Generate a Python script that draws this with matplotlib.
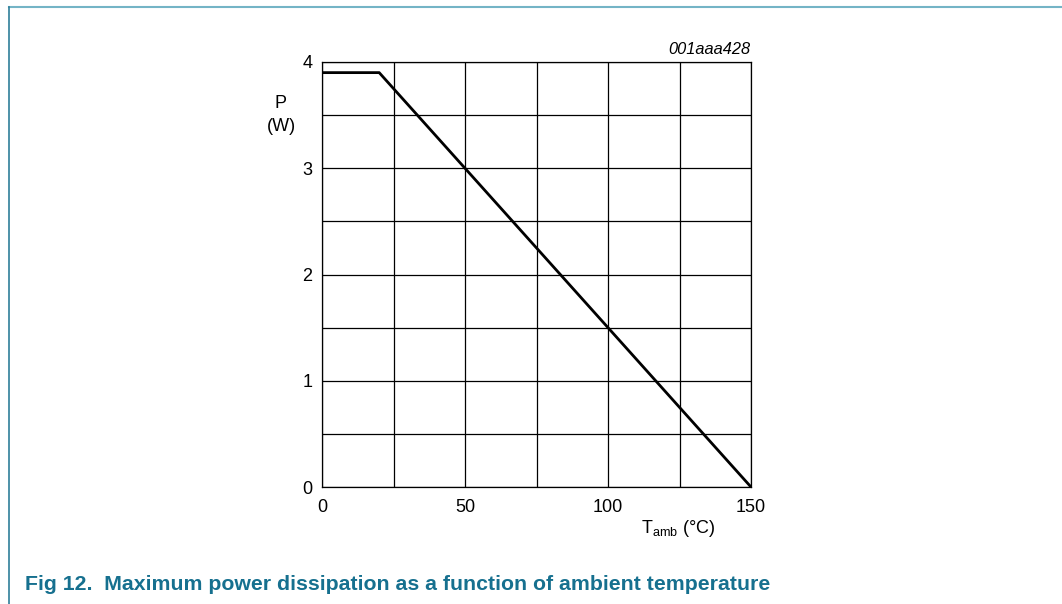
import numpy as np
import matplotlib
matplotlib.use("Agg")
import matplotlib.pyplot as plt
from matplotlib.lines import Line2D

plt.rcParams['font.family'] = ['Liberation Sans', 'DejaVu Sans']

# derating curve: ambient temperature vs max power
t_amb = [0, 20, 150]
p_max = [3.9, 3.9, 0]

x_ticks = [0, 50, 100, 150]
y_ticks = [0, 1, 2, 3, 4]
x_grid = np.arange(0, 151, 25)
y_grid = np.arange(0, 4.01, 0.5)

fig = plt.figure(figsize=(10.62, 6.04), dpi=100)
ax = fig.add_axes([322 / 1062, 1 - 487 / 604, 429 / 1062, 425 / 604])

ax.plot(t_amb, p_max, color="black", lw=2.0, solid_capstyle="butt", zorder=3)
ax.set_xlim(0, 150)
ax.set_ylim(0, 4)

ax.set_xticks(x_grid)
ax.set_yticks(y_grid)
ax.set_xticklabels([str(v) if v in x_ticks else "" for v in x_grid])
ax.set_yticklabels([str(int(v)) if v in y_ticks else "" for v in y_grid])
ax.tick_params(length=0, labelsize=13)
ax.tick_params(axis="x", pad=9)
ax.tick_params(axis="y", pad=7)
ax.grid(True, color="black", lw=0.9)
for s in ax.spines.values():
    s.set_linewidth(0.9)

# axis labels as in the datasheet
fig.text(281 / 1062, 1 - 103 / 604, "P", ha="center", va="center", fontsize=13)
fig.text(281 / 1062, 1 - 126 / 604, "(W)", ha="center", va="center", fontsize=13)
fig.text(678 / 1062, 1 - 533 / 604, r"T$_{\mathregular{amb}}$ (°C)", ha="center",
         va="baseline", fontsize=13)
fig.text(750 / 1062, 1 - 49 / 604, "001aaa428", ha="right", va="center",
         fontsize=11.8, style="italic")

# page frame and caption
fig.add_artist(Line2D([9 / 1062, 1], [1 - 7 / 604, 1 - 7 / 604],
                      transform=fig.transFigure, color="#74b4c6", lw=1.5))
fig.add_artist(Line2D([9 / 1062, 9 / 1062], [0, 1 - 7 / 604],
                      transform=fig.transFigure, color="#2f7f9a", lw=1.2))
fig.text(25 / 1062, 1 - 584 / 604,
         "Fig 12.  Maximum power dissipation as a function of ambient temperature",
         ha="left", va="center", fontsize=15.3, fontweight="bold", color="#16708f")

fig.savefig("out.png", dpi=100)
